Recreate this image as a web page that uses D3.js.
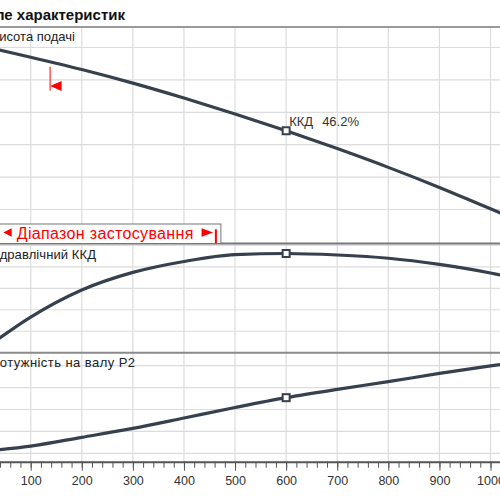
<!DOCTYPE html>
<html>
<head>
<meta charset="utf-8">
<script src="https://cdn.jsdelivr.net/npm/d3@7"></script>
<style>
  body { margin: 0; background: #fff; }
  svg { display: block; font-family: "Liberation Sans", Arial, sans-serif; }
</style>
</head>
<body>
<svg id="chart" width="500" height="500"></svg>
<script>
// flow points shared by all three curves
const flow = [0, 100, 200, 300, 400, 500, 600, 700, 800, 900, 1000, 1050];
const head = [30.3, 28.5, 26.6, 24.5, 22.2, 19.75, 17.15, 14.4, 11.5, 8.4, 5.1, 3.5];
const efficiency = [0, 16.6, 29.2, 37.4, 42.5, 45.7, 46.2, 45.5, 44.0, 41.1, 37.1, 34.6];
const power = [0.08, 0.33, 0.73, 1.14, 1.61, 2.09, 2.54, 2.92, 3.27, 3.65, 3.99, 4.15];

const flowTicks = [0, 100, 200, 300, 400, 500, 600, 700, 800, 900, 1000];
const headGrid = [5, 10, 15, 20, 25, 30];
const effGrid = [10, 20, 30, 40, 50];
const powerGrid = [0, 1, 2, 3, 4];

const dutyFlow = 600;
const dutyLabel = ['ККД', '46.2%'];
const rangeMin = 138;
const rangeMax = 462.5;

const titleText = 'Поле характеристик';
const panelNames = ['Висота подачі', 'Гідравлічний ККД', 'Потужність на валу P2'];
const rangeText = 'Діапазон застосування';

const curveColor = '#36414d';
const gridColor = '#dcdcdc';

const svg = d3.select('#chart');

let x = d3.scaleLinear().domain([0, 1050]).range([-20.4, 516.05]);

const panels = [
  { top: 27, bottom: 243.5, y: d3.scaleLinear().domain([0, 33.16]).range([241.9, 27]), grid: headGrid, values: head, name: panelNames[0], nameX: -9.5, nameLen: 84.5, nameY: 40.5 },
  { top: 243.5, bottom: 352.7, y: d3.scaleLinear().domain([0, 50]).range([352.7, 245.35]), grid: effGrid, values: efficiency, name: panelNames[1], nameX: -10.5, nameLen: 106.5, nameY: 258.5 },
  { top: 352.7, bottom: 461.7, y: d3.scaleLinear().domain([-0.384, 4.594]).range([461.7, 352.7]), grid: powerGrid, values: power, name: panelNames[2], nameX: -10, nameLen: 145, nameY: 366.7 }
];

// vertical grid through every panel
svg.append('g')
  .selectAll('line')
  .data(flowTicks)
  .enter().append('line')
  .attr('x1', d => x(d))
  .attr('x2', d => x(d))
  .attr('y1', 27)
  .attr('y2', 461.7)
  .attr('stroke', gridColor)
  .attr('stroke-width', 1.2);

panels.forEach((p, i) => {
  let g = svg.append('g').attr('class', `panel-${i}`);
  g.selectAll('.hgrid')
    .data(p.grid)
    .enter().append('line')
    .attr('class', 'hgrid')
    .attr('x1', 0)
    .attr('x2', 500)
    .attr('y1', d => p.y(d))
    .attr('y2', d => p.y(d))
    .attr('stroke', gridColor)
    .attr('stroke-width', 1.2);

  g.append('clipPath')
    .attr('id', `clip-${i}`)
    .append('rect')
    .attr('x', -30)
    .attr('y', p.top)
    .attr('width', 560)
    .attr('height', p.bottom - p.top);

  let line = d3.line()
    .x((d, k) => x(flow[k]))
    .y(d => p.y(d))
    .curve(d3.curveMonotoneX);

  g.append('path')
    .attr('clip-path', `url(#clip-${i})`)
    .attr('d', line(p.values))
    .attr('fill', 'none')
    .attr('stroke', curveColor)
    .attr('stroke-width', 3.2);

  let k = flow.indexOf(dutyFlow);
  g.append('rect')
    .attr('x', x(dutyFlow) - 3.5)
    .attr('y', p.y(p.values[k]) - 3.5)
    .attr('width', 7)
    .attr('height', 7)
    .attr('fill', '#fff')
    .attr('stroke', curveColor)
    .attr('stroke-width', 2);

  g.append('text')
    .attr('x', p.nameX)
    .attr('y', p.nameY)
    .attr('font-size', 13)
    .attr('fill', '#222')
    .attr('textLength', p.nameLen)
    .attr('lengthAdjust', 'spacing')
    .text(p.name);
});

// panel borders
[[27, '#9a9a9a'], [243.5, '#777'], [352.7, '#8a8a8a']].forEach(b => {
  svg.append('line')
    .attr('x1', 0)
    .attr('x2', 500)
    .attr('y1', b[0])
    .attr('y2', b[0])
    .attr('stroke', b[1])
    .attr('stroke-width', 2);
});

// duty point label
let dutyY = panels[0].y(head[flow.indexOf(dutyFlow)]);
let dutyText = svg.append('text')
  .attr('y', dutyY - 4.5)
  .attr('font-size', 13)
  .attr('fill', '#333');
dutyText.append('tspan').attr('x', x(dutyFlow) + 3).text(dutyLabel[0]);
dutyText.append('tspan').attr('x', x(dutyFlow) + 36).text(dutyLabel[1]);

// minimum flow marker on head curve
let minX = x(rangeMin);
svg.append('line')
  .attr('x1', minX)
  .attr('x2', minX)
  .attr('y1', 66.7)
  .attr('y2', 90.7)
  .attr('stroke', '#ff0000')
  .attr('stroke-width', 1);
svg.append('path')
  .attr('d', `M${minX},86 L${minX + 11.5},81 L${minX + 11.5},91 Z`)
  .attr('fill', '#ff0000');

// application range box
let maxX = x(rangeMax);
svg.append('rect')
  .attr('x', -5)
  .attr('y', 224)
  .attr('width', maxX + 5 + 5)
  .attr('height', 19.5)
  .attr('fill', '#fff')
  .attr('stroke', '#777')
  .attr('stroke-width', 1);
svg.append('path')
  .attr('d', 'M3.3,232.5 L11.7,228.3 L11.7,236.7 Z')
  .attr('fill', '#ff0000');
svg.append('path')
  .attr('d', `M${maxX - 14.3},228.3 L${maxX - 2.8},232.5 L${maxX - 14.3},236.7 Z`)
  .attr('fill', '#ff0000');
svg.append('line')
  .attr('x1', maxX)
  .attr('x2', maxX)
  .attr('y1', 229.3)
  .attr('y2', 243.3)
  .attr('stroke', '#ff0000')
  .attr('stroke-width', 2);
svg.append('text')
  .attr('x', 16.7)
  .attr('y', 238.5)
  .attr('font-size', 16)
  .attr('fill', '#ff0000')
  .attr('textLength', 176.6)
  .attr('lengthAdjust', 'spacing')
  .text(rangeText);

// x axis: minor ticks then labelled majors
let minorAxis = svg.append('g')
  .attr('transform', 'translate(0,461.7)')
  .call(d3.axisBottom(x).tickValues(d3.range(0, 1051, 20)).tickSize(6).tickFormat(''));
minorAxis.select('.domain').remove();
minorAxis.selectAll('line').attr('stroke', '#555');

let majorAxis = svg.append('g')
  .attr('transform', 'translate(0,461.7)')
  .call(d3.axisBottom(x).tickValues(flowTicks).tickSize(9).tickSizeOuter(0).tickPadding(5).tickFormat(d3.format('d')));
majorAxis.select('.domain').attr('stroke', '#555').attr('stroke-width', 2);
majorAxis.selectAll('line').attr('stroke', '#555');
majorAxis.selectAll('text')
  .attr('font-size', 12.5)
  .attr('font-family', '"Liberation Sans", Arial, sans-serif')
  .attr('fill', '#333');

// title, cut at the left edge like the source
svg.append('text')
  .attr('x', 125)
  .attr('y', 19.5)
  .attr('text-anchor', 'end')
  .attr('font-size', 15)
  .attr('font-weight', 'bold')
  .attr('fill', '#111')
  .text(titleText);
</script>
</body>
</html>
